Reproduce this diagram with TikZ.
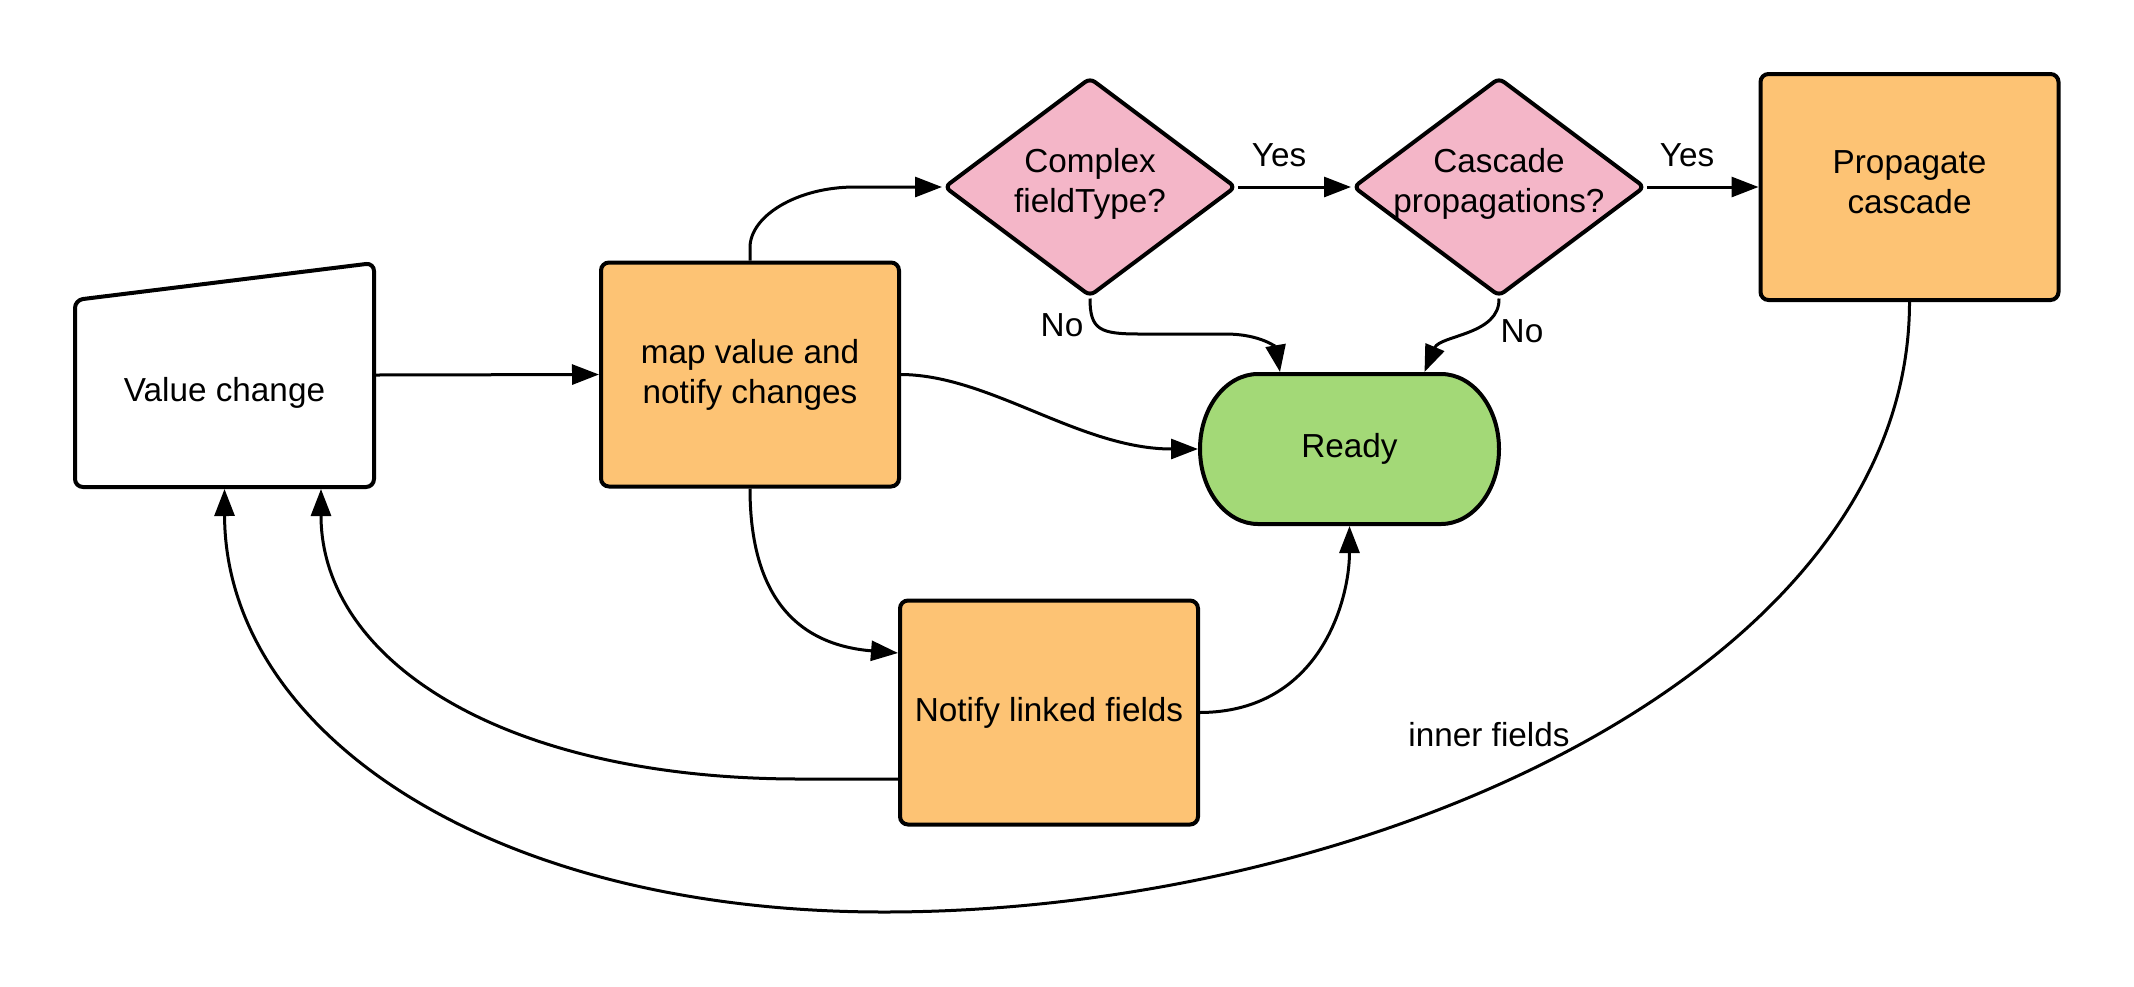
\documentclass[tikz,border=0pt]{standalone}
\usepackage{fontspec}
\setmainfont{Liberation Sans}
\usetikzlibrary{arrows.meta,shapes.geometric,calc}
\definecolor{boxorange}{HTML}{FDC374}
\definecolor{decpink}{HTML}{F4B6C8}
\definecolor{readygreen}{HTML}{A3D977}
\begin{document}
\begin{tikzpicture}[x=1pt,y=-1pt,
  every node/.style={font=\fontsize{33.3}{40}\selectfont},
  procbox/.style={draw,line width=4pt,rounded corners=8pt,fill=boxorange,minimum width=298pt,minimum height=224pt,align=center,inner sep=0pt},
  decision/.style={diamond,draw,line width=4pt,rounded corners=6pt,fill=decpink,minimum width=292pt,minimum height=219pt,inner sep=0pt},
  ghost/.style={inner sep=0pt,outer sep=2pt},
  shapeline/.style={line width=4pt,rounded corners=8pt},
  conn/.style={line width=3pt,-{Triangle[length=27pt,width=20pt]}},
  lbl/.style={inner sep=0pt,align=center}]
\useasboundingbox (0,0) rectangle (2134,986);

% Value change (manual input shape)
\draw[shapeline,fill=white] (75,487) -- (75,300) -- (374,263) -- (374,487) -- cycle;
\node[ghost,minimum width=299pt,minimum height=224pt] (vc) at (224.5,375) {};
\node[lbl] (vctext) at (224.5,393) {Value change};

% Ready (terminator)
\draw[line width=4pt,fill=readygreen] (1258,374) -- (1441,374)
  .. controls (1473,374) and (1499,407.6) .. (1499,449)
  .. controls (1499,490.4) and (1473,524) .. (1441,524)
  -- (1258,524)
  .. controls (1226,524) and (1200,490.4) .. (1200,449)
  .. controls (1200,407.6) and (1226,374) .. (1258,374) -- cycle;
\node[ghost,minimum width=299pt,minimum height=150pt] (ready) at (1349.5,449) {Ready};

\node[procbox] (map) at (750,374.5) {map value and\\notify changes};
\node[procbox] (notify) at (1049,712.5) {Notify linked fields};
\node[procbox,minimum height=226pt] (prop) at (1909.5,187) {};
\node[lbl] (proptext) at (1909.5,182) {Propagate\\cascade};
\node[decision] (cplx) at (1090,187) {};
\node[lbl] (cplxtext) at (1090,183.5) {Complex\\fieldType?};
\node[decision] (casc) at (1499,187) {};
\node[lbl] (casctext) at (1499,183.5) {Cascade\\propagations?};

% connectors
\draw[conn] (vc.east) -- (map.west);
\draw[conn] (map.north) -- ++(0,-13) .. controls (750,216) and (797,187) .. (855,187) -- (cplx.west);
\draw[conn] (cplx.east) -- (casc.west);
\draw[conn] (casc.east) -- (prop.west);
\draw[conn] (cplx.south) .. controls (1090,330) and (1100,334) .. (1140,334) -- (1225,334) .. controls (1262,334) and (1276,348) .. ([xshift=-69.5pt]ready.north);
\draw[conn] (casc.south) .. controls (1500,335) and (1440,335) .. ([xshift=75pt]ready.north);
\draw[conn] (map.east) .. controls (990,375) and (1080,449) .. (ready.west);
\draw[conn] (map.south) .. controls (750,600) and (800,645) .. ([yshift=59.5pt]notify.west);
\draw[conn] (notify.east) .. controls (1320,712) and (1349.5,600) .. (ready.south);
\draw[conn] ([yshift=-66.5pt]notify.west) -- (800,779) .. controls (500,779) and (321,659) .. ([xshift=96.5pt]vc.south);
\draw[conn] (prop.south) .. controls (1909.5,670) and (1370,912) .. (884,912) .. controls (484,912) and (225,729) .. (vc.south);

% labels
\node[lbl] (yes1) at (1279,155) {Yes};
\node[lbl] (yes2) at (1687,155) {Yes};
\node[lbl] (no1) at (1062,325) {No};
\node[lbl] (no2) at (1522,331) {No};
\node[lbl] (inner) at (1489,735) {inner fields};
\end{tikzpicture}
\end{document}
